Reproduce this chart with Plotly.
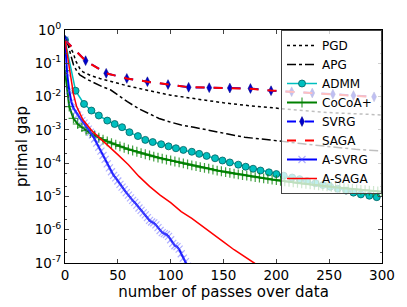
import plotly.graph_objects as go

# ---------------- data ----------------
pgd_x = [0, 3, 5, 8, 10, 14, 17, 25, 33, 45, 59, 80, 100, 122, 150, 175, 201, 225, 250, 275, 300]
pgd_y = [0.5, 0.4, 0.3, 0.2, 0.12, 0.07, 0.055, 0.042, 0.035, 0.027, 0.021, 0.015, 0.011, 0.0087,
         0.0065, 0.0053, 0.0044, 0.0038, 0.0033, 0.003, 0.0028]

apg_x = [0, 3, 5, 8, 11, 14, 20, 27, 35, 43, 50, 59, 70, 80, 89, 100, 110, 122, 137, 153, 170, 187,
         201, 225, 250, 275, 300]
apg_y = [0.5, 0.35, 0.2, 0.09, 0.06, 0.045, 0.034, 0.026, 0.02, 0.016, 0.011, 0.007, 0.0043, 0.003,
         0.0022, 0.0017, 0.0014, 0.0012, 9.5e-4, 7.6e-4, 6.0e-4, 5.3e-4, 4.7e-4, 3.8e-4, 3.1e-4,
         2.6e-4, 2.3e-4]

admm_x = [0, 10, 18, 25, 32, 40, 47, 54, 61, 69, 76, 83, 91, 98, 105, 112, 120, 127, 134, 142, 149,
          156, 164, 171, 178, 185, 193, 200, 207, 215, 222, 229, 237, 244, 251, 258, 266, 273, 280,
          288, 295]
admm_y = [0.5, 0.015, 0.006, 0.0038, 0.0027, 0.0019, 0.0015, 0.0012, 8.5e-4, 6.5e-4, 5.0e-4, 4.3e-4,
          3.7e-4, 3.2e-4, 2.8e-4, 2.5e-4, 2.2e-4, 1.9e-4, 1.65e-4, 1.4e-4, 1.2e-4, 1.05e-4, 9.0e-5,
          7.8e-5, 6.8e-5, 6.0e-5, 5.3e-5, 4.7e-5, 4.2e-5, 3.7e-5, 3.3e-5, 2.9e-5, 2.5e-5, 2.2e-5,
          1.95e-5, 1.7e-5, 1.5e-5, 1.3e-5, 1.15e-5, 1.05e-5, 9.5e-6]

cocoa_x = [0, 4, 8, 12, 16, 20, 24, 28, 32, 36, 40, 44, 48, 52, 56, 60, 64, 68, 72, 76, 80, 84, 88,
           92, 96, 100, 104, 108, 112, 116, 120, 124, 128, 132, 136, 140, 144, 148, 152, 156, 160,
           164, 168, 172, 176, 180, 184, 188, 192, 196, 200, 204, 208, 212, 216, 220, 224, 228, 232,
           236, 240, 244, 248, 252, 256, 260, 264, 268, 272, 276, 280, 284, 288, 292, 296, 300]
cocoa_y = [0.06, 0.005, 0.0022, 0.0015, 0.0012, 9.5e-4, 8.0e-4, 6.8e-4, 5.8e-4, 5.1e-4, 4.5e-4,
           4.0e-4, 3.6e-4, 3.2e-4, 2.9e-4, 2.6e-4, 2.4e-4, 2.2e-4, 2.0e-4, 1.85e-4, 1.7e-4, 1.58e-4,
           1.47e-4, 1.37e-4, 1.28e-4, 1.2e-4, 1.12e-4, 1.05e-4, 9.8e-5, 9.2e-5, 8.6e-5, 8.1e-5,
           7.6e-5, 7.2e-5, 6.8e-5, 6.4e-5, 6.0e-5, 5.7e-5, 5.4e-5, 5.1e-5, 4.85e-5, 4.6e-5, 4.4e-5,
           4.2e-5, 4.0e-5, 3.8e-5, 3.65e-5, 3.5e-5, 3.35e-5, 3.2e-5, 3.1e-5, 2.95e-5, 2.85e-5,
           2.75e-5, 2.65e-5, 2.55e-5, 2.45e-5, 2.37e-5, 2.29e-5, 2.21e-5, 2.14e-5, 2.07e-5, 2.0e-5,
           1.94e-5, 1.88e-5, 1.82e-5, 1.77e-5, 1.72e-5, 1.67e-5, 1.62e-5, 1.58e-5, 1.54e-5, 1.5e-5,
           1.46e-5, 1.42e-5, 1.38e-5]

svrg_x = [0, 19.5, 39, 58.5, 78, 97.5, 117, 136.5, 156, 175.5, 195, 214.5, 234, 253.5, 273, 292.5]
svrg_y = [0.5, 0.12, 0.05, 0.035, 0.028, 0.023, 0.019, 0.0185, 0.018, 0.0175, 0.015, 0.014, 0.0128,
          0.0118, 0.0108, 0.0098]

saga_x = [0, 19.5, 39, 58.5, 78, 97.5, 117, 136.5, 156, 175.5, 195, 214.5, 234, 253.5, 273, 292.5]
saga_y = [0.5, 0.118, 0.05, 0.035, 0.028, 0.023, 0.0192, 0.0185, 0.018, 0.0172, 0.0152, 0.014,
          0.0127, 0.0118, 0.0107, 0.0097]

asvrg_x = [0, 2, 4, 6, 8, 10, 12, 14, 16, 18, 20, 22, 24, 26, 28, 30, 32, 34, 36, 38, 40, 42, 44,
           46, 48, 50, 52, 54, 56, 58, 60, 62, 64, 66, 68, 70, 72, 74, 76, 78, 80, 82, 84, 86, 88,
           90, 92, 94, 96, 98, 100, 102, 104, 106, 108, 110, 112, 114, 116]
asvrg_y = [0.5, 0.05, 0.015, 7e-3, 4.5e-3, 3.5e-3, 2.8e-3, 2.3e-3, 1.9e-3, 1.6e-3, 1.3e-3, 1.05e-3,
           8.5e-4, 7e-4, 5.3e-4, 4e-4, 3e-4, 2.3e-4, 1.7e-4, 1.3e-4, 9.5e-5, 7.2e-5, 5.5e-5, 4.3e-5,
           3.6e-5, 2.9e-5, 2.3e-5, 1.9e-5, 1.6e-5, 1.3e-5, 1.1e-5, 9e-6, 7.6e-6, 6.6e-6, 5.5e-6,
           4.5e-6, 3.8e-6, 3.2e-6, 2.8e-6, 2.3e-6, 1.9e-6, 1.7e-6, 1.6e-6, 1.4e-6, 1.15e-6, 9.5e-7,
           8.2e-7, 7.6e-7, 7.2e-7, 6.3e-7, 5e-7, 3.9e-7, 3.3e-7, 3.1e-7, 2.6e-7, 1.9e-7, 1.4e-7,
           1.1e-7, 8e-8]

asaga_x = [0, 2, 5, 8, 11, 17, 26, 36, 50, 60, 70, 80, 90, 100, 110, 120, 130, 140, 150, 160, 170,
           179, 190]
asaga_y = [0.5, 0.2, 0.04, 0.012, 5e-3, 2e-3, 9e-4, 4.7e-4, 1.8e-4, 9e-5, 4e-5, 2e-5, 1.1e-5,
           6.5e-6, 3.5e-6, 2.2e-6, 1.3e-6, 7.5e-7, 4.3e-7, 2.5e-7, 1.5e-7, 1e-7, 6e-8]

x_ticks = [0, 50, 100, 150, 200, 250, 300]
y_tickvals = [1e-7, 1e-6, 1e-5, 1e-4, 1e-3, 1e-2, 1e-1, 1e0]
y_ticktext = ["10<sup>-7</sup>", "10<sup>-6</sup>", "10<sup>-5</sup>", "10<sup>-4</sup>",
              "10<sup>-3</sup>", "10<sup>-2</sup>", "10<sup>-1</sup>", "10<sup>0</sup>"]

# ---------------- figure ----------------
fig = go.Figure()

fig.add_trace(go.Scatter(x=pgd_x, y=pgd_y, name="PGD", mode="lines",
                         line=dict(color="black", width=1.5, dash="dot")))
fig.add_trace(go.Scatter(x=apg_x, y=apg_y, name="APG", mode="lines",
                         line=dict(color="black", width=1.5, dash="dashdot")))
fig.add_trace(go.Scatter(x=admm_x, y=admm_y, name="ADMM", mode="lines+markers",
                         line=dict(color="#00BFBF", width=1.5),
                         marker=dict(symbol="circle", size=7, color="#00BFBF",
                                     line=dict(color="#005f5f", width=0.8))))
fig.add_trace(go.Scatter(x=cocoa_x, y=cocoa_y, name="CoCoA+", mode="lines+markers",
                         line=dict(color="#008000", width=2),
                         marker=dict(symbol="cross-thin", size=7,
                                     line=dict(color="rgba(0,128,0,0.75)", width=1.2))))
fig.add_trace(go.Scatter(x=svrg_x, y=svrg_y, name="SVRG", mode="lines+markers",
                         line=dict(color="blue", width=2, dash="dash"),
                         marker=dict(symbol="diamond-tall", size=7, color="#0000cc",
                                     line=dict(color="#000080", width=0.5))))
fig.add_trace(go.Scatter(x=saga_x, y=saga_y, name="SAGA", mode="lines",
                         line=dict(color="red", width=2, dash="dash")))
fig.add_trace(go.Scatter(x=asvrg_x, y=asvrg_y, name="A-SVRG\u00a0\u00a0", mode="lines+markers",
                         line=dict(color="blue", width=2),
                         marker=dict(symbol="x-thin", size=7,
                                     line=dict(color="rgba(80,80,255,0.45)", width=1.2))))
fig.add_trace(go.Scatter(x=asaga_x, y=asaga_y, name="A-SAGA", mode="lines",
                         line=dict(color="red", width=1.5)))

fig.update_layout(
    width=399, height=299,
    margin=dict(l=57, r=21, t=17, b=42),
    paper_bgcolor="white", plot_bgcolor="white",
    font=dict(family="DejaVu Sans", size=13, color="black"),
    showlegend=True,
    legend=dict(x=1, y=1, xanchor="right", yanchor="top",
                bgcolor="rgba(255,255,255,0.75)", bordercolor="#444", borderwidth=1,
                font=dict(size=12), itemwidth=30, tracegroupgap=0),
)
fig.update_xaxes(range=[0, 300], tickvals=x_ticks, ticks="inside", ticklen=4,
                 showline=True, linecolor="black", linewidth=1, mirror="allticks",
                 showgrid=False, zeroline=False,
                 title=dict(text="number of passes over data", font=dict(size=15), standoff=1),
                 tickfont=dict(size=13.5))
fig.update_yaxes(type="log", range=[-7, 0], tickvals=y_tickvals, ticktext=y_ticktext,
                 ticks="inside", ticklen=4,
                 showline=True, linecolor="black", linewidth=1, mirror="allticks",
                 showgrid=False, zeroline=False,
                 minor=dict(ticks="inside", ticklen=2, showgrid=False),
                 title=dict(text="primal gap", font=dict(size=15), standoff=3),
                 tickfont=dict(size=13.5))

fig.write_html("out.html")
